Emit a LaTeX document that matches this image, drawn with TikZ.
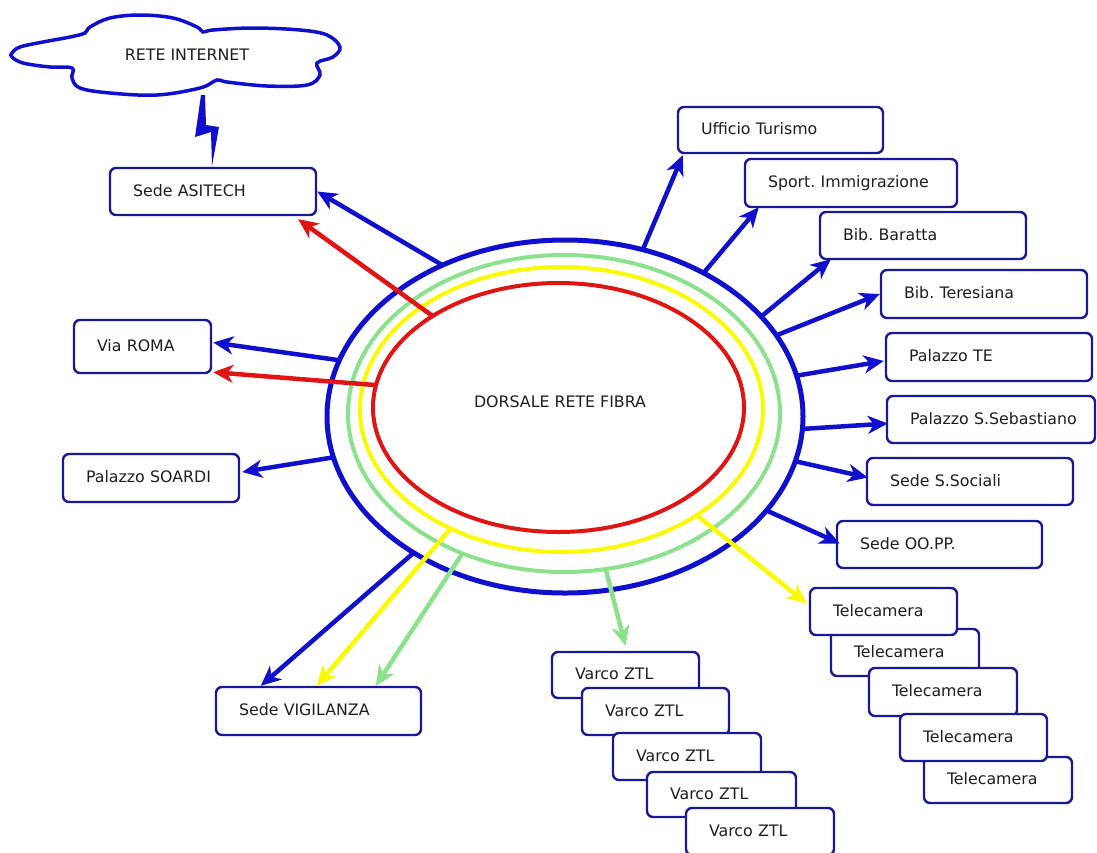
\documentclass[tikz,border=0pt]{standalone}
\usepackage{fontspec}
\setmainfont{DejaVu Sans}
\usetikzlibrary{shapes.geometric,arrows.meta,calc}
\definecolor{ringblue}{RGB}{15,15,205}
\definecolor{boxnavy}{RGB}{25,25,150}
\definecolor{ringred}{RGB}{225,20,20}
\definecolor{ringyellow}{RGB}{250,250,0}
\definecolor{ringgreen}{RGB}{140,225,140}
\definecolor{txt}{RGB}{30,30,30}
\frenchspacing
\begin{document}
\begin{tikzpicture}[x=1pt,y=-1pt,
  bw/.code={\pgfmathsetmacro\bwtmp{#1-46}\edef\bwnext{\noexpand\pgfkeysalso{/tikz/text width=\bwtmp pt,/tikz/minimum width=#1pt}}\bwnext},
  box/.style={draw=boxnavy, line width=2.4pt, rounded corners=6pt, fill=white,
    minimum height=47pt, inner xsep=23pt, inner ysep=0pt, align=left,
    text height=12pt, text depth=3pt,
    font=\fontsize{15.8}{18}\selectfont, text=txt},
  ring/.style={ellipse, inner sep=0pt, outer sep=0pt},
  conn/.style={line width=4.5pt, -{Stealth[length=20pt,width=18pt,inset=6pt]}},
  lbl/.style={font=\fontsize{15.8}{18}\selectfont, text=txt, inner sep=0pt}
]
\useasboundingbox[fill=white] (0,0) rectangle (1097,852);

% rings
\node[ring, draw=ringblue, line width=5pt, minimum width=476pt, minimum height=353pt] (blue) at (565,416.5) {};
\node[ring, draw=ringgreen, line width=4pt, minimum width=432pt, minimum height=317pt] (green) at (564,413.5) {};
\node[ring, draw=ringyellow, line width=4pt, minimum width=403pt, minimum height=285pt] (yellow) at (561.5,409.5) {};
\node[ring, draw=ringred, line width=4pt, minimum width=371pt, minimum height=249pt] (red) at (558.5,407.5) {};
\node[lbl] (dorsale) at (560,402) {DORSALE RETE FIBRA};

% cloud
\draw[ringblue, line width=3.5pt, fill=white] plot[smooth cycle, tension=0.6] coordinates {
 (12,53) (20,47) (43,42) (70,37) (85,33) (90,27) (110,18) (140,15) (173,18) (197,27) (203,32)
 (213,30) (253,28) (300,30) (327,35) (340,47) (333,57) (317,63) (320,75) (307,85) (267,86)
 (227,82) (217,80) (200,88) (157,95) (110,93) (80,88) (72,78) (72,68) (50,67) (23,63) (12,57)};
\node[lbl] (internet) at (187,55) {RETE INTERNET};

% boxes
\node[box, bw=206] (asitech) at (213,191.5) {Sede ASITECH};
\node[box, bw=205, minimum height=46pt] (ufficio) at (780.5,130) {Ufficio Turismo};
\node[box, bw=212, minimum height=48pt] (sport) at (851,183) {\mbox{Sport. Immigrazione}};
\node[box, bw=206] (baratta) at (923,235.5) {Bib. Baratta};
\node[box, bw=206, minimum height=48pt] (teresiana) at (984,294) {Bib. Teresiana};
\node[box, bw=206, minimum height=48pt] (te) at (989,357) {Palazzo TE};
\node[box, bw=208] (sseb) at (991,419.5) {\mbox{Palazzo S.Sebastiano}};
\node[box, bw=206] (ssoc) at (970,481.5) {Sede S.Sociali};
\node[box, bw=205] (oopp) at (939.5,544.5) {Sede OO.PP.};
\node[box, bw=137, minimum height=53pt] (roma) at (142.5,346.5) {Via ROMA};
\node[box, bw=176, minimum height=48pt] (soardi) at (151,478) {\mbox{Palazzo SOARDI}};
\node[box, bw=205, minimum height=48pt] (vigil) at (318.5,711) {Sede VIGILANZA};

\node[box, bw=148] (t2) at (905,652.5) {Telecamera};
\node[box, bw=147] (t1) at (883.5,611.5) {Telecamera};
\node[box, bw=148, minimum height=48pt] (t3) at (943,692) {Telecamera};
\node[box, bw=148, minimum height=46pt] (t5) at (998,780) {Telecamera};
\node[box, bw=147] (t4) at (973.5,737.5) {Telecamera};

\node[box, bw=147, minimum height=46pt] (v1) at (625.5,675) {Varco ZTL};
\node[box, bw=147] (v2) at (655.5,711.5) {Varco ZTL};
\node[box, bw=148] (v3) at (687,756.5) {Varco ZTL};
\node[box, bw=149, minimum height=45pt] (v4) at (721.5,794.5) {Varco ZTL};
\node[box, bw=148] (v5) at (760,831.5) {Varco ZTL};

% lightning between cloud and ASITECH
\fill[ringblue] (201,95) -- (195,137) -- (211,132) -- (212,166) -- (219,127) -- (206,125) -- (205,95) -- cycle;

% connectors
\draw[conn, ringblue] (blue.129.8) -- (asitech.east);
\draw[conn, ringred] (red.144.25) -- ($(asitech.south east)+(-19,3)$);
\draw[conn, ringblue] (blue.65.3) -- ($(ufficio.south west)+(6,1)$);
\draw[conn, ringblue] (blue.46.7) -- ($(sport.south west)+(15,-1)$);
\draw[conn, ringblue] (blue.27.9) -- ($(baratta.south west)+(12,-1)$);
\draw[conn, ringblue] (blue.21.6) -- (teresiana.west);
\draw[conn, ringblue] (blue.10.5) -- ($(te.west)+(-1,4)$);
\draw[conn, ringblue] (blue.357.5) -- ($(sseb.west)+(2,4)$);
\draw[conn, ringblue] (blue.349) -- ($(ssoc.west)+(2,-4)$);
\draw[conn, ringblue] (blue.335.5) -- ($(oopp.west)+(4,-1)$);
\draw[conn, ringblue] (blue.166.9) -- ($(roma.east)+(1,-4)$);
\draw[conn, ringred] (red.173.7) -- ($(roma.south east)+(1,-2)$);
\draw[conn, ringblue] (blue.190) -- ($(soardi.east)+(2,-6)$);
\draw[conn, ringblue] (blue.222.2) -- ($(vigil.north west)+(46,0)$);
\draw[conn, ringyellow] (yellow.227.9) -- ($(vigil.north west)+(102,0)$);
\draw[conn, ringgreen] (green.234.2) -- ($(vigil.north west)+(161,0)$);
\draw[conn, ringgreen] (green.285.1) -- ($(v1.north)+(0,-5)$);
\draw[conn, ringyellow] (yellow.322.5) -- ($(t1.west)+(-2,-8)$);
\end{tikzpicture}
\end{document}
